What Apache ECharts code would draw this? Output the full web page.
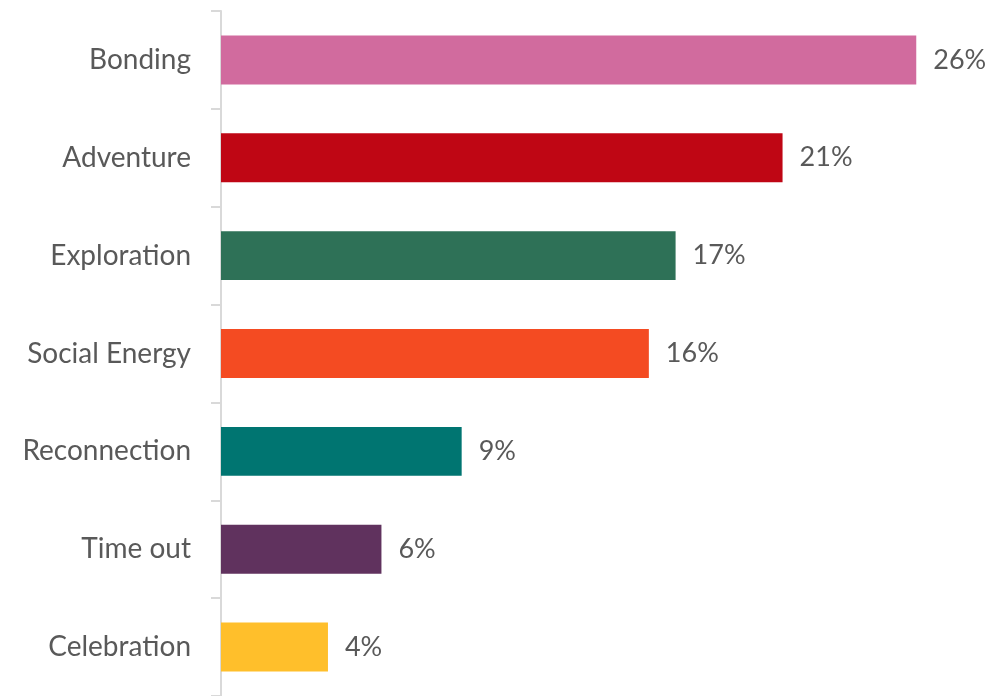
<!DOCTYPE html>
<html>
<head>
<meta charset="utf-8">
<script src="https://cdn.jsdelivr.net/npm/echarts@6/dist/echarts.min.js"></script>
<style>
  html, body { margin: 0; padding: 0; background: #ffffff; }
  #chart { width: 989px; height: 696px; }
</style>
</head>
<body>
<div id="chart"></div>
<script>
// Share of trips by motivation (percent)
const categories = ['Bonding', 'Adventure', 'Exploration', 'Social Energy', 'Reconnection', 'Time out', 'Celebration'];
const values = [26, 21, 17, 16, 9, 6, 4];
const colors = ['#D16B9E', '#BF0614', '#2E7157', '#F44B22', '#007571', '#60325E', '#FFBF2B'];

const textColor = '#595959';
const fontFamily = 'Lato, "Open Sans", sans-serif';

const chart = echarts.init(document.getElementById('chart'));
chart.setOption({
  animation: false,
  grid: { left: 221, top: 11, width: 722, height: 686 },
  xAxis: {
    type: 'value',
    min: 0,
    max: 27,
    show: false
  },
  yAxis: {
    type: 'category',
    data: categories,
    inverse: true,
    axisLine: { show: true, lineStyle: { color: '#D9D9D9', width: 2 } },
    axisTick: { show: true, length: 10, lineStyle: { color: '#D9D9D9', width: 2 } },
    axisLabel: { color: textColor, fontFamily: fontFamily, fontSize: 28, margin: 30 }
  },
  series: [{
    type: 'bar',
    data: values.map((v, i) => ({ value: v, itemStyle: { color: colors[i] } })),
    barWidth: '50%',
    label: {
      show: true,
      position: 'right',
      distance: 17,
      formatter: '{c}%',
      color: textColor,
      fontFamily: fontFamily,
      fontSize: 27
    }
  }]
});
</script>
</body>
</html>
